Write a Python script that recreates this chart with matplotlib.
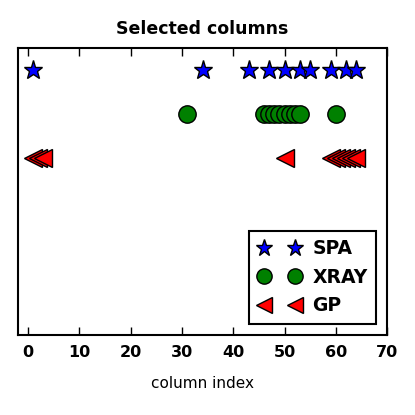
import matplotlib
matplotlib.use('Agg')
import matplotlib.pyplot as plt

# selected column indices per method
spa_cols = [1, 34, 43, 47, 50, 53, 55, 59, 62, 64]
xray_cols = [31, 46, 47, 48, 49, 50, 51, 52, 53, 60]
gp_cols = [1, 2, 3, 50, 59, 60, 61, 62, 63, 64]

methods = ['SPA', 'XRAY', 'GP']
levels = [3, 2, 1]

fig = plt.figure(figsize=(4.15, 4.15), dpi=100)
ax = fig.add_axes([0.043, 0.193, 0.89, 0.691])

ax.plot(spa_cols, [levels[0]] * len(spa_cols), '*', color='blue', markersize=14,
        markeredgecolor='black', markeredgewidth=1.0, linestyle='none', label=methods[0])
ax.plot(xray_cols, [levels[1]] * len(xray_cols), 'o', color='green', markersize=12.5,
        markeredgecolor='black', markeredgewidth=1.0, linestyle='none', label=methods[1])
ax.plot(gp_cols, [levels[2]] * len(gp_cols), '<', color='red', markersize=13,
        markeredgecolor='black', markeredgewidth=1.0, linestyle='none', label=methods[2])

ax.set_xlim(-2, 70)
ax.set_ylim(-3, 3.5)
ax.set_yticks([])
ax.set_xticks(range(0, 71, 10))
ax.tick_params(axis='x', direction='in', top=True, length=6, width=1, labelsize=11.5, pad=7)
for lab in ax.get_xticklabels():
    lab.set_fontweight('bold')
for sp in ax.spines.values():
    sp.set_linewidth(1.5)

ax.set_title('Selected columns', fontweight='bold', fontsize=12.5, pad=10)
ax.set_xlabel('column index', fontsize=11, labelpad=12)

leg = ax.legend(loc='lower right', numpoints=2, fancybox=False, framealpha=1,
                prop={'weight': 'bold', 'size': 13.5}, handletextpad=0.6,
                markerscale=0.88, handlelength=2.3,
                borderpad=0.45, labelspacing=0.5, borderaxespad=0.6)
leg.get_frame().set_edgecolor('black')
leg.get_frame().set_linewidth(1.5)

fig.savefig('out.png', dpi=100)
